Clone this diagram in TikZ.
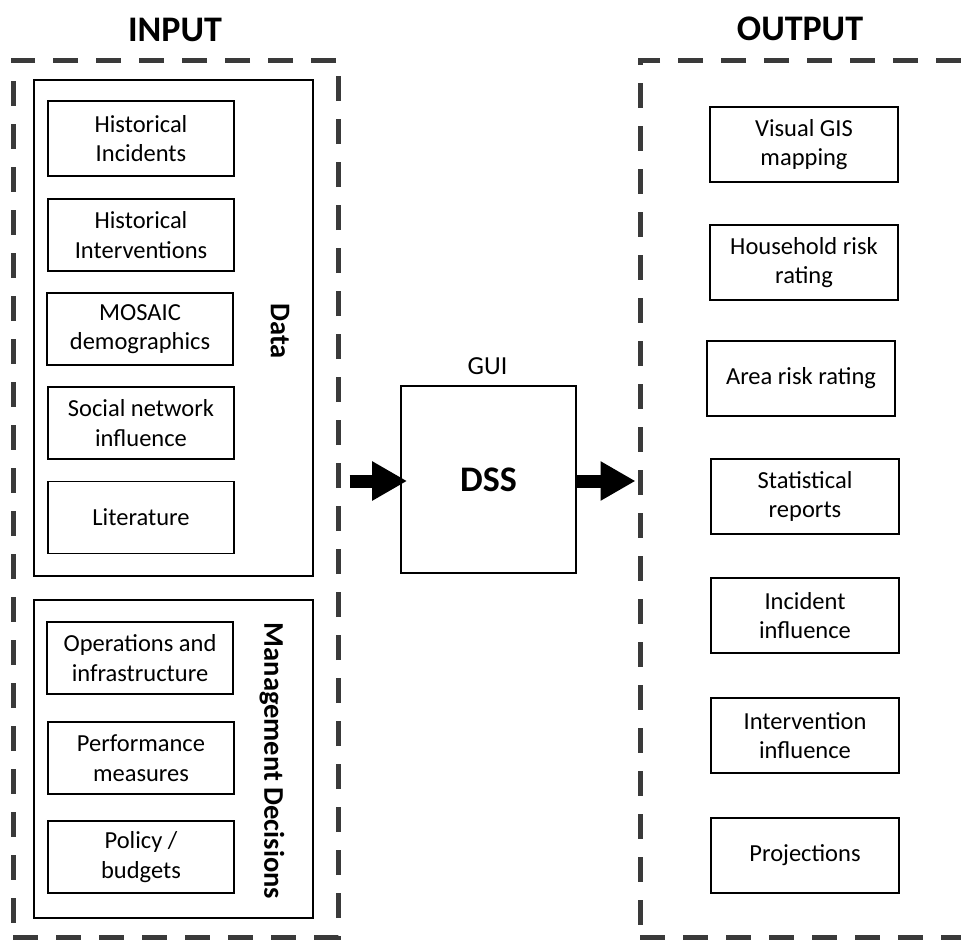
\documentclass[tikz,border=0pt]{standalone}
\usepackage{fontspec}
\setmainfont{Carlito}
\usetikzlibrary{arrows.meta}
\definecolor{dashgray}{HTML}{3A3A3A}
\begin{document}
\begin{tikzpicture}[x=1pt,y=-1pt,
  dashbox/.style={draw=dashgray, line width=5pt, dash pattern=on 25pt off 18pt, rectangle, inner sep=0pt},
  groupbox/.style={draw=black, line width=1.8pt, rectangle, inner sep=0pt},
  itembox/.style={draw=black, line width=1.8pt, rectangle, inner sep=0pt, align=center,
    font=\fontsize{24.5}{29.5}\selectfont},
  lbox/.style={itembox, minimum width=186pt},
  rbox/.style={itembox, minimum width=188pt, minimum height=75pt},
  title/.style={font=\fontsize{36}{42}\selectfont\bfseries, inner sep=0pt},
  sidelabel/.style={font=\fontsize{28.5}{32}\selectfont\bfseries, rotate=-90, inner sep=0pt},
  bigarrow/.style={line width=13pt, -{Triangle[length=35pt,width=37pt]}}
]
\useasboundingbox (0,0) rectangle (961,940);
% titles
\node[title] (tin) at (175,30) {INPUT};
\node[title] (tout) at (800,29) {OUTPUT};
% dashed containers
\node[dashbox, minimum width=325pt, minimum height=877pt] (inbox) at (175.5,498.5) {};
\node[dashbox, minimum width=324pt, minimum height=877pt] (outbox) at (802,498.5) {};
% group boxes
\node[groupbox, minimum width=279pt, minimum height=496pt] (databox) at (173.5,328) {};
\node[groupbox, minimum width=279pt, minimum height=318pt] (mgmtbox) at (173.5,759) {};
\node[sidelabel] (datalbl) at (280,331) {Data};
\node[sidelabel] (mgmtlbl) at (272,761) {Management Decisions};
% input items
\node[lbox, minimum height=75pt] (hinc) at (141,138.5) {Historical\\Incidents};
\node[lbox, minimum height=72pt] (hint) at (141,235) {Historical\\Interventions};
\node[lbox, minimum height=72pt] (mosaic) at (140,329) {MOSAIC\\demographics};
\node[lbox, minimum height=72pt] (social) at (141,423) {Social network\\influence};
\node[lbox, minimum height=72pt] (lit) at (141,517.5) {Literature};
\node[lbox, minimum height=72pt] (ops) at (140,658) {Operations and\\infrastructure};
\node[lbox, minimum height=72pt] (perf) at (141,758) {Performance\\measures};
\node[lbox, minimum height=72pt] (policy) at (141,857) {Policy /\\budgets};
% DSS
\node[draw=black, line width=1.8pt, minimum width=175pt, minimum height=187pt, inner sep=0pt,
  font=\fontsize{36}{42}\selectfont\bfseries] (dss) at (488.5,479.5) {DSS};
\node[font=\fontsize{26}{30}\selectfont, anchor=base, inner sep=0pt] (gui) at (487.5,374) {GUI};
% output items
\node[rbox] (gis) at (804,144.5) {Visual GIS\\mapping};
\node[rbox] (hh) at (804,262.5) {Household risk\\rating};
\node[rbox] (area) at (801,378.5) {Area risk rating};
\node[rbox] (stat) at (805,496.5) {Statistical\\reports};
\node[rbox] (inc) at (805,615.5) {Incident\\influence};
\node[rbox] (intv) at (805,735.5) {Intervention\\influence};
\node[rbox] (proj) at (805,855.5) {Projections};
% arrows
\coordinate (a1s) at ([xshift=9pt]inbox.east |- 0,481);
\coordinate (a1e) at ([xshift=7pt]dss.west |- 0,481);
\coordinate (a2s) at (dss.east |- 0,481);
\coordinate (a2e) at ([xshift=-2pt]outbox.west |- 0,481);
\draw[bigarrow] (a1s) -- (a1e);
\draw[bigarrow] (a2s) -- (a2e);
\end{tikzpicture}
\end{document}
